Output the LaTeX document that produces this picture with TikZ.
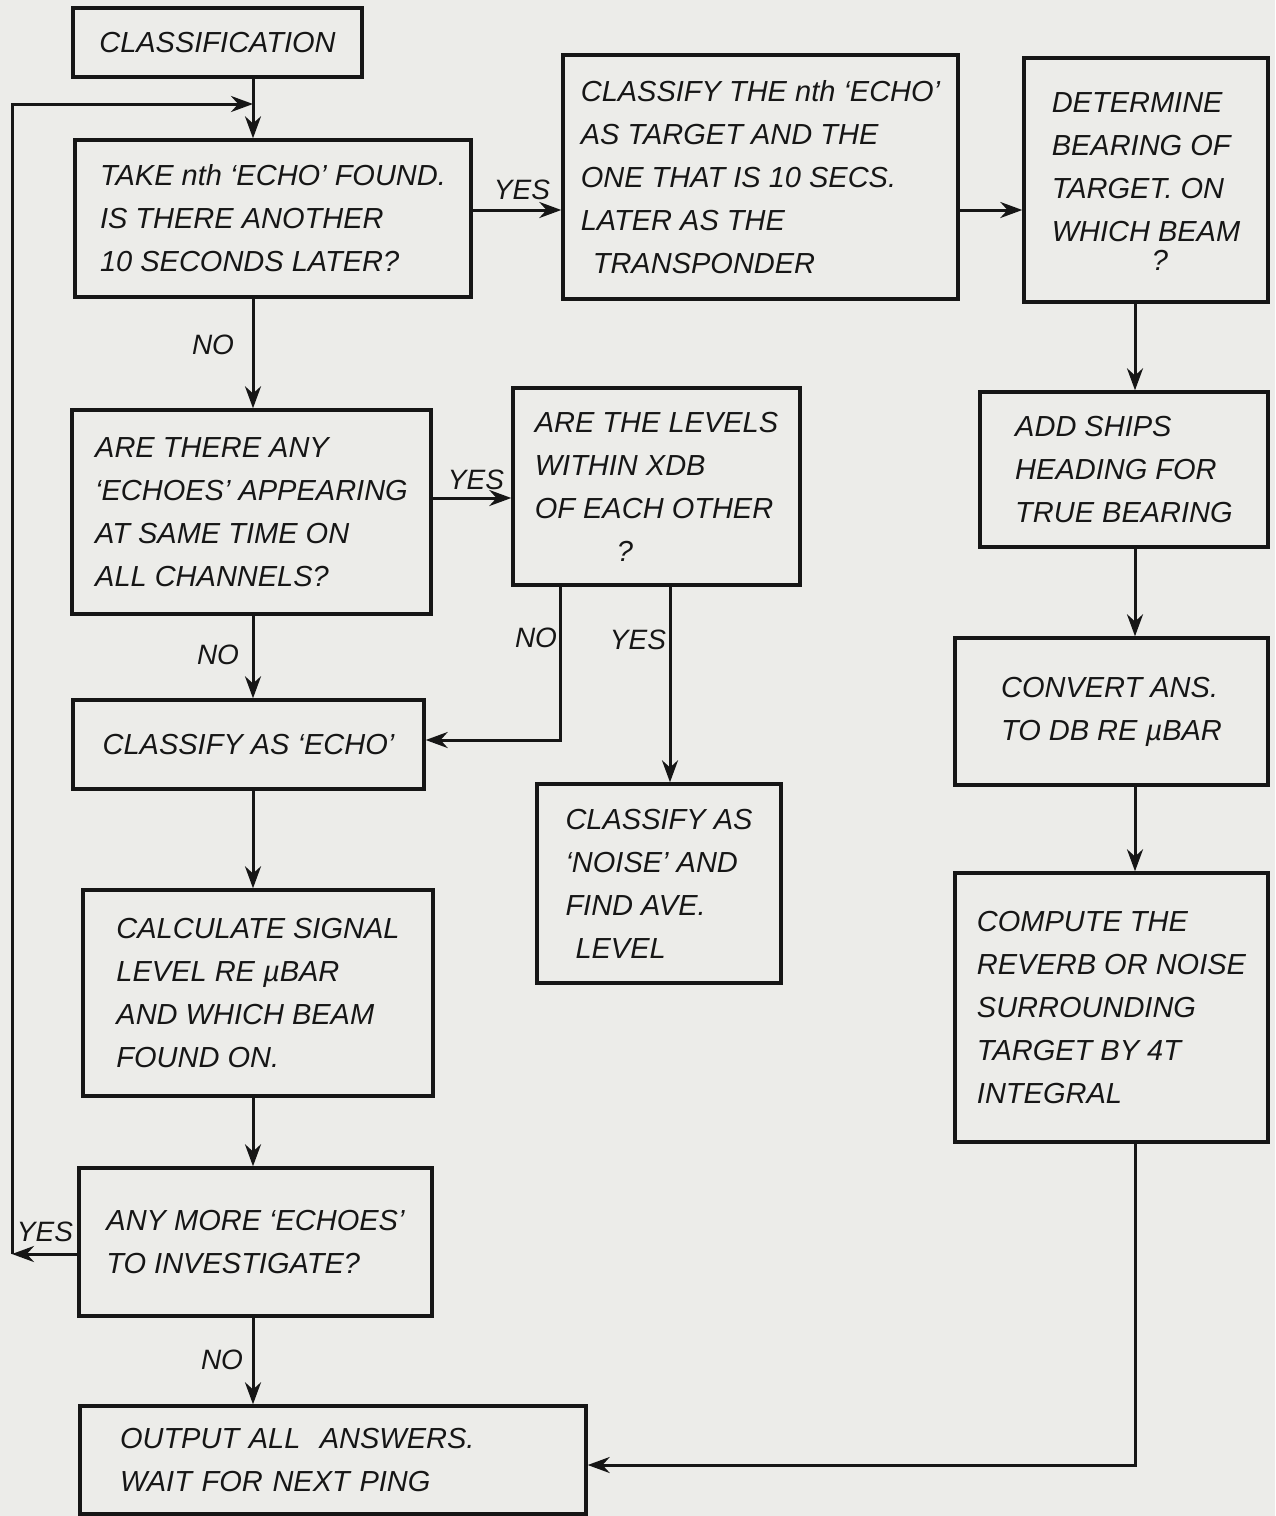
\documentclass[tikz,border=0pt]{standalone}
\usepackage{fontspec}
\setmainfont{Liberation Sans}
\usetikzlibrary{arrows.meta}
\definecolor{paper}{RGB}{236,236,233}
\definecolor{ink}{RGB}{22,22,22}
\newcommand\handfont{\fontsize{29}{43}\selectfont\itshape}
\newcommand\lblfont{\fontsize{28}{32}\selectfont\itshape}
\begin{document}
\begin{tikzpicture}[x=1pt,y=-1pt,
  box/.style={draw=ink, line width=3.4pt, inner sep=0pt, align=left, font=\handfont, text=ink},
  lbl/.style={font=\lblfont, text=ink, inner sep=0pt},
  conn/.style={draw=ink, line width=3pt},
  arr/.style={conn, -{Stealth[length=22pt,width=16pt]}}]
\fill[paper] (0,0) rectangle (1275,1516);
\useasboundingbox (0,0) rectangle (1275,1516);

% boxes
\node[box, minimum width=289pt, minimum height=69pt] (class) at (217.5,42.5) {CLASSIFICATION};
\node[box, minimum width=396pt, minimum height=157pt] (take) at (273,218.5)
  {TAKE nth `ECHO' FOUND.\\IS THERE ANOTHER\\10 SECONDS LATER?};
\node[box, minimum width=395pt, minimum height=244pt] (cls) at (760.5,177)
  {CLASSIFY THE nth `ECHO'\\AS TARGET AND THE\\ONE THAT IS 10 SECS.\\LATER AS THE\\\hspace*{12pt}TRANSPONDER};
\node[box, minimum width=244pt, minimum height=244pt] (det) at (1146,180)
  {\\[-20pt]DETERMINE\\BEARING OF\\TARGET. ON\\WHICH BEAM\\[-14pt]\hspace*{100pt}?};
\node[box, minimum width=359pt, minimum height=204pt] (there) at (251.5,512)
  {ARE THERE ANY\\`ECHOES' APPEARING\\AT SAME TIME ON\\ALL CHANNELS?};
\node[box, minimum width=287pt, minimum height=197pt] (levels) at (656.5,486.5)
  {ARE THE LEVELS\\WITHIN XDB\\OF EACH OTHER\\\hspace*{82pt}?};
\node[box, minimum width=288pt, minimum height=155pt] (ships) at (1124,469.5)
  {ADD SHIPS\\HEADING FOR\\TRUE BEARING};
\node[box, minimum width=351pt, minimum height=89pt] (echo) at (248.5,744.5)
  {CLASSIFY AS `ECHO'};
\node[box, minimum width=244pt, minimum height=199pt] (noise) at (659,883.5)
  {CLASSIFY AS\\`NOISE' AND\\FIND AVE.\\\hspace*{10pt}LEVEL};
\node[box, minimum width=313pt, minimum height=147pt] (conv) at (1111.5,711.5)
  {CONVERT ANS.\\TO DB RE µBAR};
\node[box, minimum width=350pt, minimum height=206pt] (calc) at (258,993)
  {CALCULATE SIGNAL\\LEVEL RE µBAR\\AND WHICH BEAM\\FOUND ON.};
\node[box, minimum width=313pt, minimum height=269pt] (comp) at (1111.5,1007.5)
  {COMPUTE THE\\REVERB OR NOISE\\SURROUNDING\\TARGET BY 4T\\INTEGRAL};
\node[box, minimum width=353pt, minimum height=148pt] (more) at (255.5,1242)
  {ANY MORE `ECHOES'\\TO INVESTIGATE?};
\node[box, minimum width=506pt, minimum height=108pt, text width=426pt] (out) at (333,1460)
  {OUTPUT ALL \ ANSWERS.\\WAIT FOR NEXT PING};

% reference coordinates
\coordinate (loopTop) at (253,104);
\coordinate (loopBot) at (12,1254);
\coordinate (yA) at (0,210);
\coordinate (yB) at (0,498);
\coordinate (xN) at (560,0);
\coordinate (yN) at (0,740);
\coordinate (xY) at (670,0);
\coordinate (xR) at (1135,0);
\coordinate (yOut) at (0,1465);
\coordinate (yMore) at (0,1254);
\coordinate (xC) at (253,0);

% connectors
\draw[conn] (class.south -| loopTop) -- (loopTop);
\draw[arr] (loopTop) -- (take.north -| loopTop);
\draw[arr] (more.west |- yMore) -- (loopBot);
\draw[arr] (loopBot) -- (loopBot |- loopTop) -- (loopTop);
\draw[arr] (take.east |- yA) -- (cls.west |- yA);
\draw[arr] (cls.east |- yA) -- (det.west |- yA);
\draw[arr] (take.south -| xC) -- (there.north -| xC);
\draw[arr] (there.east |- yB) -- (levels.west |- yB);
\draw[arr] (there.south -| xC) -- (echo.north -| xC);
\draw[arr] (levels.south -| xN) -- (xN |- yN) -- (echo.east |- yN);
\draw[arr] (levels.south -| xY) -- (noise.north -| xY);
\draw[arr] (echo.south -| xC) -- (calc.north -| xC);
\draw[arr] (calc.south -| xC) -- (more.north -| xC);
\draw[arr] (more.south -| xC) -- (out.north -| xC);
\draw[arr] (det.south -| xR) -- (ships.north -| xR);
\draw[arr] (ships.south -| xR) -- (conv.north -| xR);
\draw[arr] (conv.south -| xR) -- (comp.north -| xR);
\draw[arr] (comp.south -| xR) -- (xR |- yOut) -- (out.east |- yOut);

% labels
\node[lbl] (l1) at (522,190) {YES};
\node[lbl] (l2) at (213,345) {NO};
\node[lbl] (l3) at (476,480) {YES};
\node[lbl] (l4) at (218,655) {NO};
\node[lbl] (l5) at (536,638) {NO};
\node[lbl] (l6) at (638,640) {YES};
\node[lbl] (l7) at (45,1232) {YES};
\node[lbl] (l8) at (222,1360) {NO};
\end{tikzpicture}
\end{document}
